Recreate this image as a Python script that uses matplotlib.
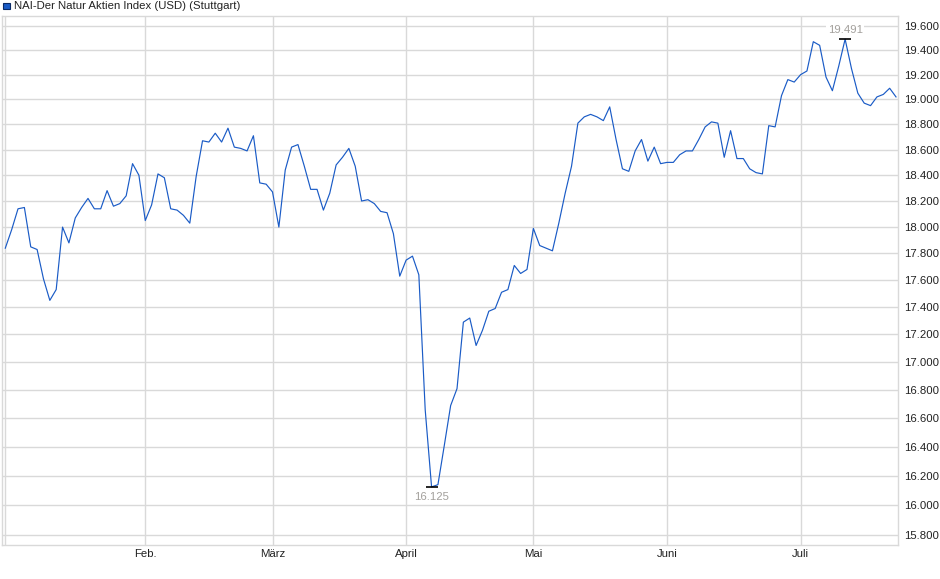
import matplotlib
matplotlib.use("Agg")
import matplotlib.pyplot as plt
from matplotlib.ticker import FixedLocator, NullLocator, FuncFormatter

plt.rcParams['font.family'] = ['Liberation Sans', 'DejaVu Sans']

# daily closing values, Jan 2 .. Jul 22 (trading days)
values = [
    17.84, 17.98, 18.14, 18.15, 17.85, 17.83, 17.61, 17.45, 17.53, 18.00,
    17.88, 18.07, 18.15, 18.22, 18.14, 18.14, 18.28, 18.16, 18.18, 18.24,
    18.49, 18.40, 18.05, 18.17, 18.41, 18.38, 18.14, 18.13, 18.09, 18.03,
    18.39, 18.67, 18.66, 18.73, 18.66, 18.77, 18.62, 18.61, 18.59, 18.71,
    18.34, 18.33, 18.27, 18.00, 18.44, 18.62, 18.64, 18.47, 18.29, 18.29,
    18.13, 18.26, 18.48, 18.54, 18.61, 18.47, 18.20, 18.21, 18.18, 18.12,
    18.11, 17.95, 17.63, 17.75, 17.78, 17.64, 16.66, 16.125, 16.14, 16.41,
    16.69, 16.81, 17.29, 17.32, 17.12, 17.23, 17.37, 17.39, 17.51, 17.53,
    17.71, 17.65, 17.68, 17.99, 17.86, 17.84, 17.82, 18.03, 18.26, 18.47,
    18.81, 18.86, 18.88, 18.86, 18.83, 18.94, 18.68, 18.45, 18.43, 18.59,
    18.68, 18.51, 18.62, 18.49, 18.50, 18.50, 18.56, 18.59, 18.59, 18.68,
    18.78, 18.82, 18.81, 18.54, 18.75, 18.53, 18.53, 18.45, 18.42, 18.41,
    18.79, 18.78, 19.03, 19.16, 19.14, 19.20, 19.23, 19.47, 19.44, 19.18,
    19.07, 19.27, 19.491, 19.25, 19.05, 18.97, 18.95, 19.02, 19.04, 19.09,
    19.02,
]

# month labels and the trading-day index where each month begins
month_labels = ['Feb.', 'März', 'April', 'Mai', 'Juni', 'Juli']
month_starts = [22, 42, 63, 83, 104, 125]

y_ticks = [15.8, 16.0, 16.2, 16.4, 16.6, 16.8, 17.0, 17.2, 17.4,
           17.6, 17.8, 18.0, 18.2, 18.4, 18.6, 18.8, 19.0, 19.2, 19.4, 19.6]

series_name = 'NAI-Der Natur Aktien Index (USD) (Stuttgart)'

grid_col = '#d9d9d9'
line_col = '#1a5bc6'
note_col = '#a3a09c'

fig = plt.figure(figsize=(9.4, 5.79), dpi=100)
ax = fig.add_axes([2.3 / 940, 34 / 579, 896 / 940, 529 / 579])

x = list(range(len(values)))
ax.plot(x, values, color=line_col, lw=0.85, zorder=3)

ax.set_yscale('log')
ax.set_ylim(15.733, 19.683)
ax.set_xlim(-0.47, len(values) - 1 + 0.36)

ax.yaxis.set_major_locator(FixedLocator(y_ticks))
ax.yaxis.set_minor_locator(NullLocator())
ax.yaxis.set_major_formatter(FuncFormatter(lambda v, p: f"{v:.3f}"))
ax.yaxis.tick_right()
ax.tick_params(axis='y', length=0, pad=4, labelsize=8.2, labelcolor='#222222')

ax.set_xticks(month_starts)
ax.set_xticklabels(month_labels)
ax.tick_params(axis='x', length=0, pad=3, labelsize=8.2, labelcolor='#222222')

ax.grid(True, color=grid_col, lw=1.0, zorder=0)
ax.axvline(0, color=grid_col, lw=1.0, zorder=0)
for s in ax.spines.values():
    s.set_color(grid_col)
    s.set_linewidth(1.0)

# high / low markers
i_max = values.index(max(values))
i_min = values.index(min(values))
ax.plot(i_max, values[i_max], marker='_', ms=9, mew=1.2, color='black', zorder=4)
ax.plot(i_min, values[i_min], marker='_', ms=9, mew=1.2, color='black', zorder=4)
fmt = lambda v: f"{v:.3f}"
ax.annotate(fmt(values[i_max]), (i_max, values[i_max]), xytext=(0, 6.3),
            textcoords='offset points', ha='center', va='center', fontsize=8.2,
            color=note_col, zorder=5,
            bbox=dict(boxstyle='square,pad=0.1', fc='white', ec='none'))
ax.annotate(fmt(values[i_min]), (i_min, values[i_min]), xytext=(0, -7.5),
            textcoords='offset points', ha='center', va='center', fontsize=8.2,
            color=note_col, zorder=5)

# legend entry at the top left
fig.patches.append(plt.Rectangle((3.3 / 940, 1 - 9 / 579), 6.5 / 940, 6.5 / 579,
                                 transform=fig.transFigure, fc=line_col,
                                 ec='#0a2a66', lw=0.8))
fig.text(14 / 940, 1 - 6 / 579, series_name, fontsize=8.2, color='#222222',
         ha='left', va='center')

fig.savefig('out.png', dpi=100)
